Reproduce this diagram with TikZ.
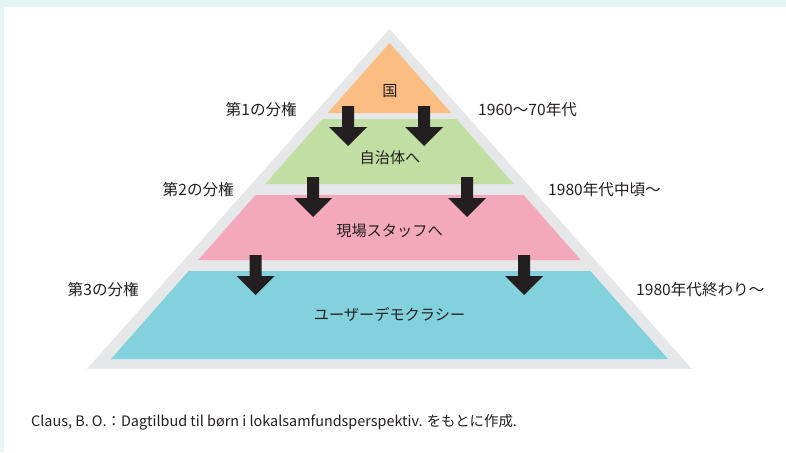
\documentclass[tikz,border=0pt]{standalone}
\usepackage{fontspec}
\setmainfont{Noto Sans CJK JP}
\definecolor{frameteal}{HTML}{E5F4F4}
\definecolor{pyrgray}{HTML}{E6E7E8}
\definecolor{borange}{HTML}{FBBD82}
\definecolor{bgreen}{HTML}{C2DFA3}
\definecolor{bpink}{HTML}{F4A8BB}
\definecolor{bcyan}{HTML}{82D1DC}
\definecolor{inkdark}{HTML}{231F20}
\tikzset{
  bandlabel/.style={font=\fontsize{15.2}{18}\selectfont, text=inkdark, inner sep=0pt},
  sidelabel/.style={font=\fontsize{15.6}{18}\selectfont, text=inkdark, inner sep=0pt},
  captionlabel/.style={font=\fontsize{14.4}{17}\selectfont, text=inkdark, inner sep=0pt, anchor=west},
  pics/downarrow/.style={code={
    \fill[inkdark] (-6,0) -- (6,0) -- (6,21) -- (19,21) -- (0,40) -- (-19,21) -- (-6,21) -- cycle;
  }}
}
\begin{document}
\begin{tikzpicture}[x=1pt,y=-1pt]
\useasboundingbox (0,0) rectangle (786,452);
\fill[white] (0,0) rectangle (786,452);
\fill[frameteal] (0,0) rectangle (786,7);
\fill[frameteal] (0,0) rectangle (4,452);
% outer pyramid
\fill[pyrgray] (389.5,29) -- (692,369) -- (87,369) -- cycle;
% bands
\fill[borange] (389.5,43) -- (451.2,113) -- (327.8,113) -- cycle;
\fill[bgreen] (322.5,119) -- (456.5,119) -- (513.8,184) -- (265.2,184) -- cycle;
\fill[bpink] (255.5,195) -- (523.5,195) -- (580.7,260) -- (198.3,260) -- cycle;
\fill[bcyan] (188.6,271) -- (590.4,271) -- (668,359) -- (111,359) -- cycle;
% arrows
\pic at (348,106) {downarrow};
\pic at (424,106) {downarrow};
\pic at (313,177) {downarrow};
\pic at (467,177) {downarrow};
\pic at (255.5,255) {downarrow};
\pic at (524,255) {downarrow};
% band labels
\node[bandlabel] (kuni) at (390,91) {国};
\node[bandlabel] (jichi) at (390,158) {自治体へ};
\node[bandlabel] (genba) at (389.5,231) {現場スタッフへ};
\node[bandlabel] (user) at (389.5,315) {ユーザーデモクラシー};
% side labels
\node[sidelabel, anchor=east] (bunken1) at (297,110) {第1の分権};
\node[sidelabel, anchor=east] (bunken2) at (234,190) {第2の分権};
\node[sidelabel, anchor=east] (bunken3) at (139,290) {第3の分権};
\node[sidelabel, anchor=west] (era1) at (478,109.5) {1960〜70年代};
\node[sidelabel, anchor=west] (era2) at (548,190) {1980年代中頃〜};
\node[sidelabel, anchor=west] (era3) at (636,290) {1980年代終わり〜};
% caption
\node[captionlabel] (caption) at (31,422) {Claus, B. O.：Dagtilbud til børn i lokalsamfundsperspektiv. をもとに作成.};
\end{tikzpicture}
\end{document}
